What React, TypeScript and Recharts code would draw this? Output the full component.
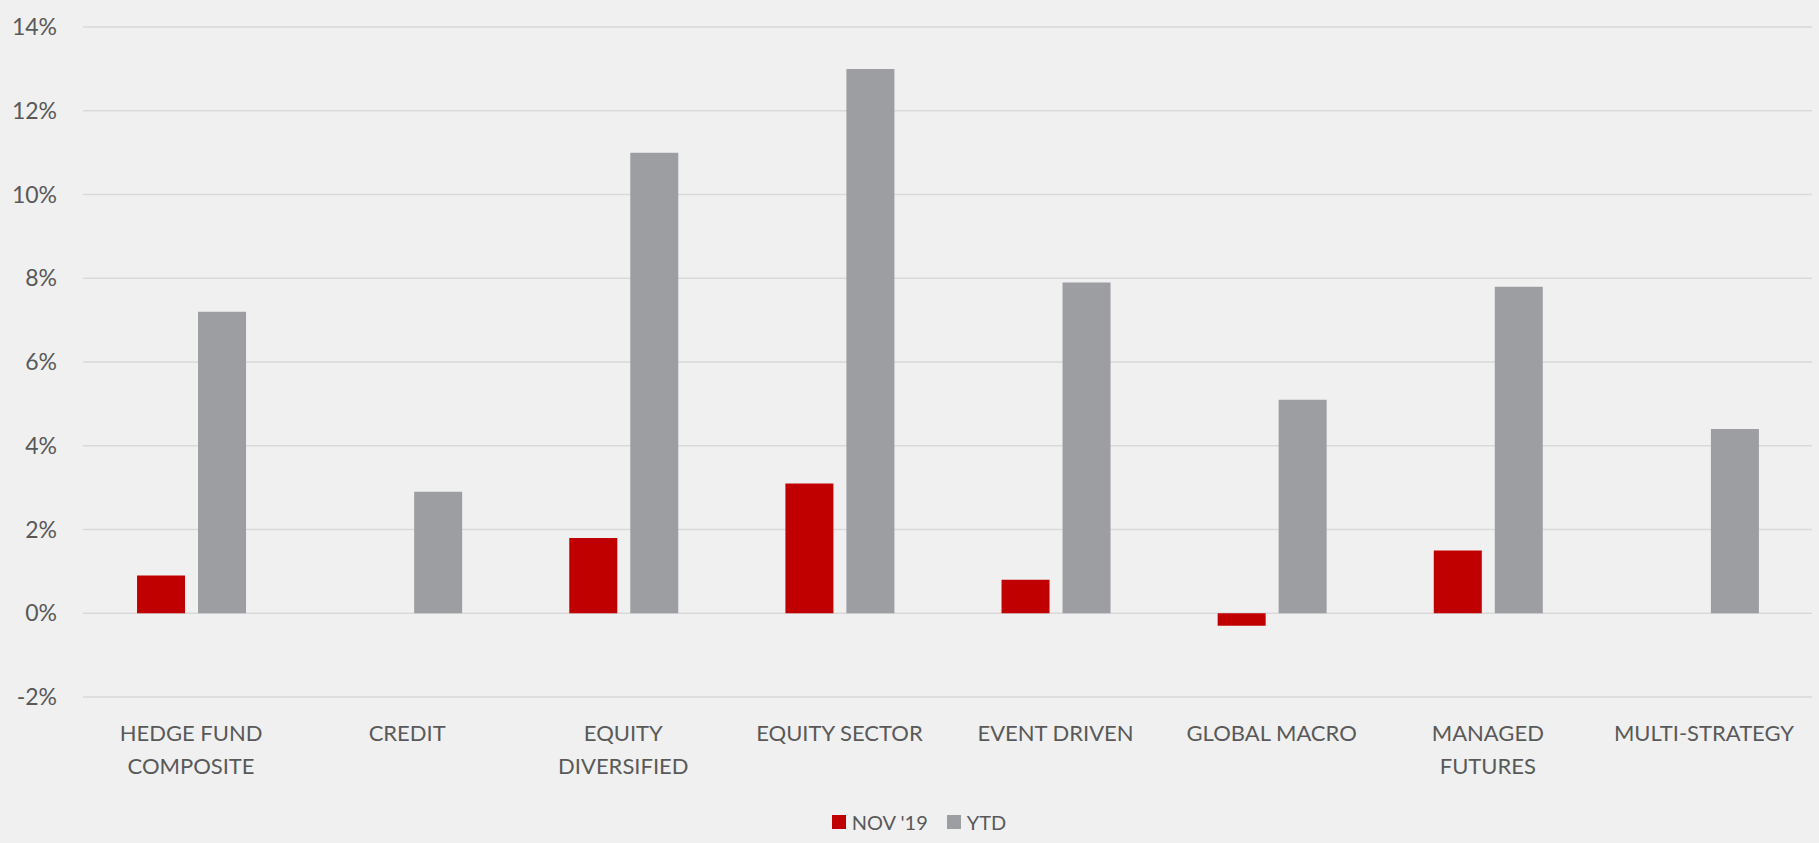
import { BarChart, Bar, XAxis, YAxis, CartesianGrid, Legend } from 'recharts'

const categories = [
  'HEDGE FUND\nCOMPOSITE',
  'CREDIT',
  'EQUITY\nDIVERSIFIED',
  'EQUITY SECTOR',
  'EVENT DRIVEN',
  'GLOBAL MACRO',
  'MANAGED\nFUTURES',
  'MULTI-STRATEGY',
]
const nov19 = [0.9, null, 1.8, 3.1, 0.8, -0.3, 1.5, null]
const ytd = [7.2, 2.9, 11.0, 13.0, 7.9, 5.1, 7.8, 4.4]
const yTicks = [-2, 0, 2, 4, 6, 8, 10, 12, 14]

const FONT = 'Lato, "Noto Sans", sans-serif'
const TEXT = '#595959'

const data = categories.map((name, i) => ({ name, nov: nov19[i], ytd: ytd[i] }))

interface TickProps {
  x?: number
  y?: number
  payload?: { value: string }
}

function CategoryTick({ x = 0, y = 0, payload }: TickProps) {
  const lines = (payload?.value ?? '').split('\n')
  return (
    <text x={x} y={y} textAnchor="middle" fill={TEXT} fontSize={22} fontFamily={FONT}>
      {lines.map((l, i) => (
        <tspan key={i} x={x} dy={i === 0 ? 44 : 33}>
          {l}
        </tspan>
      ))}
    </text>
  )
}

interface LegendEntry {
  value: string
  color?: string
}

function SimpleLegend({ payload }: { payload?: LegendEntry[] }) {
  return (
    <div
      style={{
        display: 'flex',
        justifyContent: 'center',
        alignItems: 'center',
        gap: 19,
        fontFamily: FONT,
        fontSize: 20,
        color: TEXT,
        paddingTop: 5,
        paddingLeft: 26,
      }}
    >
      {(payload ?? []).map((p) => (
        <div key={p.value} style={{ display: 'flex', alignItems: 'center', gap: 6 }}>
          <span style={{ display: 'inline-block', width: 14, height: 14, background: p.color }} />
          <span>{p.value}</span>
        </div>
      ))}
    </div>
  )
}

export default function App() {
  return (
    <div style={{ position: 'fixed', left: 0, top: 0, width: 1819, height: 843, background: '#f0f0f0' }}>
      <BarChart
        width={1819}
        height={843}
        data={data}
        margin={{ top: 27, right: 7, left: 0, bottom: 2 }}
        barCategoryGap="25%"
        barGap={13}
      >
        <CartesianGrid horizontal vertical={false} stroke="#d9d9d9" strokeWidth={1.5} />
        <XAxis
          dataKey="name"
          axisLine={false}
          tickLine={false}
          tickSize={0}
          tickMargin={0}
          height={108}
          interval={0}
          tick={<CategoryTick />}
        />
        <YAxis
          domain={[-2, 14]}
          ticks={yTicks}
          width={83}
          axisLine={false}
          tickLine={false}
          tickSize={0}
          tickMargin={26}
          tickFormatter={(v: number) => `${v}%`}
          tick={{ fill: TEXT, fontSize: 23, fontFamily: FONT }}
        />
        <Legend verticalAlign="bottom" height={36} content={<SimpleLegend />} />
        <Bar dataKey="nov" name="NOV '19" fill="#c00000" isAnimationActive={false} />
        <Bar dataKey="ytd" name="YTD" fill="#9d9ea2" isAnimationActive={false} />
      </BarChart>
    </div>
  )
}
